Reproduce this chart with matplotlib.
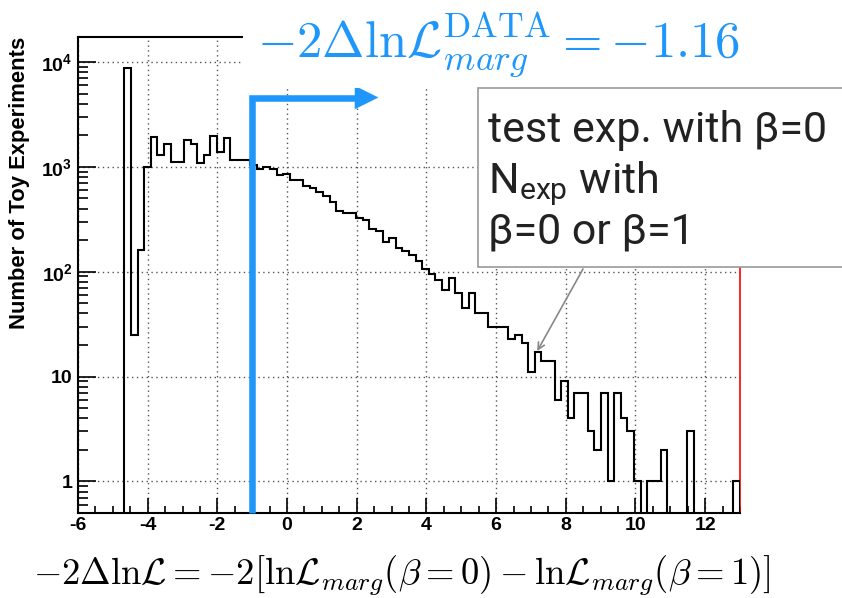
import numpy as np
import matplotlib
matplotlib.use("Agg")
import matplotlib.pyplot as plt
import matplotlib.transforms as mtransforms
from matplotlib.patches import Rectangle
from matplotlib.ticker import MultipleLocator, LogLocator, FixedLocator, NullFormatter

plt.rcParams['mathtext.fontset'] = 'custom'
plt.rcParams['mathtext.rm'] = 'Liberation Sans'
plt.rcParams['mathtext.bf'] = 'Liberation Sans:bold'
plt.rcParams['mathtext.it'] = 'Liberation Sans:italic'
plt.rcParams['axes.unicode_minus'] = False

############################################################################
##                      Data                       ##
############################################################################

x_min, x_max, n_bins = -6.0, 13.0, 100
counts = [0, 0, 0, 0, 0, 0, 0,
          8800, 25, 160, 1000, 1920, 1300, 1660, 1100, 1100, 1800,
          1650, 1080, 1300, 1950, 1400, 1900, 1150, 1150, 1150, 1050,
          945, 1000, 945, 836, 860, 745, 745, 659, 627, 570,
          530, 460, 376, 365, 365, 328, 309, 258, 246, 194,
          208, 170, 158, 145, 126, 105, 96, 83, 67, 87,
          63, 45, 63, 40, 40, 30, 30, 30, 23, 25,
          21, 11, 17, 14, 14, 6, 9, 4, 7, 7,
          3, 2, 7, 1, 7, 4, 3, 1, 0, 1,
          1, 2, 0, 0, 0, 3, 0, 0, 0, 0,
          0, 0, 1]
x_ticks = [-6, -4, -2, 0, 2, 4, 6, 8, 10, 12]
y_ticks = [1, 10, 100, 1000, 10000]
y_tick_labels = ['1', '10', r'$\mathbf{10^{2}}$', r'$\mathbf{10^{3}}$', r'$\mathbf{10^{4}}$']

data_value = -1.0          # where the blue cut is drawn
data_text = r'$-2\Delta\mathrm{ln}\mathcal{L}_{marg}^{\mathrm{DATA}} = -1.16$'
x_text = (r'$-2\Delta\mathrm{ln}\mathcal{L} = -2[\mathrm{ln}\mathcal{L}_{marg}(\beta=0)'
          r' - \mathrm{ln}\mathcal{L}_{marg}(\beta=1)]$')
ylabel = 'Number of Toy Experiments'
note_lines = ['test exp. with \u03b2=0', r'N$_{\mathregular{exp}}$ with', '\u03b2=0 or \u03b2=1']
note_point = (7.18, 17.5)  # bin the grey arrow points at

blue = '#1E96FA'
W, H = 842, 598

############################################################################
##                      Plotting                                          ##
############################################################################

fig = plt.figure(figsize=(W / 100, H / 100), dpi=100)
ax = fig.add_axes([78 / W, 1 - 513 / H, 662 / W, 476 / H])

edges = np.linspace(x_min, x_max, n_bins + 1)
vals = np.array(counts, dtype=float)
vals[vals <= 0] = 1e-3
ax.stairs(vals, edges, baseline=1e-3, color='black', lw=1.5, zorder=3)

ax.set_yscale('log')
ax.set_xlim(x_min, x_max)
ax.set_ylim(0.5, 1.73e4)

ax.xaxis.set_major_locator(FixedLocator(x_ticks))
ax.xaxis.set_minor_locator(MultipleLocator(0.5))
ax.set_xticklabels([str(t) for t in x_ticks])
ax.yaxis.set_major_locator(FixedLocator(y_ticks))
ax.yaxis.set_minor_locator(LogLocator(base=10, subs=np.arange(2, 10)))
ax.yaxis.set_minor_formatter(NullFormatter())
ax.set_yticklabels(y_tick_labels)

for lab in ax.get_xticklabels() + ax.get_yticklabels():
    lab.set_fontfamily('Liberation Sans')
    lab.set_fontweight('bold')
    lab.set_fontsize(14)

ax.tick_params(axis='x', which='major', direction='in', length=11, width=1.2, pad=3)
ax.tick_params(axis='x', which='minor', direction='in', length=5, width=1.2)
ax.tick_params(axis='y', which='major', direction='in', length=13, width=1.2, pad=4)
ax.tick_params(axis='y', which='minor', direction='in', length=7, width=1.2)

for s in ['left', 'bottom', 'top']:
    ax.spines[s].set_linewidth(1.5)
ax.spines['right'].set_color('red')
ax.spines['right'].set_linewidth(1.2)

ax.grid(True, which='major', color='#555555', linestyle=(0, (1, 2.5)), linewidth=1.0)
ax.set_axisbelow(True)

fig.text(20 / W, 1 - 37 / H, ylabel, rotation=90, ha='center', va='top',
         fontsize=15.8, fontweight='bold', family='Liberation Sans')

# blue cut with arrow
trans = mtransforms.blended_transform_factory(ax.transData, ax.transAxes)
y_arrow = (513 - 97.5) / 476
ax.plot([data_value, data_value, 2.0], [0, y_arrow, y_arrow], transform=trans,
        color=blue, lw=4.7, solid_joinstyle='miter', solid_capstyle='butt',
        zorder=4, clip_on=False)
ax.annotate('', xy=(2.62, y_arrow), xytext=(1.9, y_arrow), xycoords=trans,
            textcoords=trans,
            arrowprops=dict(arrowstyle='-|>', mutation_scale=42, lw=0.1,
                            color=blue, shrinkA=0, shrinkB=0), zorder=4)

# white area behind the big formula
fig.add_artist(Rectangle((243 / W, 1 - 88 / H), 1, 88 / H, transform=fig.transFigure,
                         facecolor='white', edgecolor='none', zorder=5))
fig.text(257 / W, 1 - 57 / H, data_text, color=blue, fontsize=36.6,
         ha='left', va='baseline', math_fontfamily='cm', zorder=6)

# note box
fig.add_artist(Rectangle((478 / W, 1 - 267 / H), 0.6, 179 / H, transform=fig.transFigure,
                         facecolor='white', edgecolor='#999999', lw=1.2, zorder=5))
for i, line in enumerate(note_lines):
    fig.text(488 / W, 1 - (142 + 51 * i) / H, line, fontsize=31, ha='left',
             va='baseline', family='Roboto', color='#222222', zorder=6)
ax.annotate('', xy=note_point, xycoords='data', xytext=(583 / W, 1 - 269 / H),
            textcoords='figure fraction',
            arrowprops=dict(arrowstyle='->', color='#888888', lw=1.2,
                            mutation_scale=12, shrinkA=0, shrinkB=0), zorder=4)

fig.text(33 / W, 1 - 585 / H, x_text, fontsize=26.4, ha='left', va='baseline',
         math_fontfamily='cm')

fig.savefig('out.png', dpi=100)
